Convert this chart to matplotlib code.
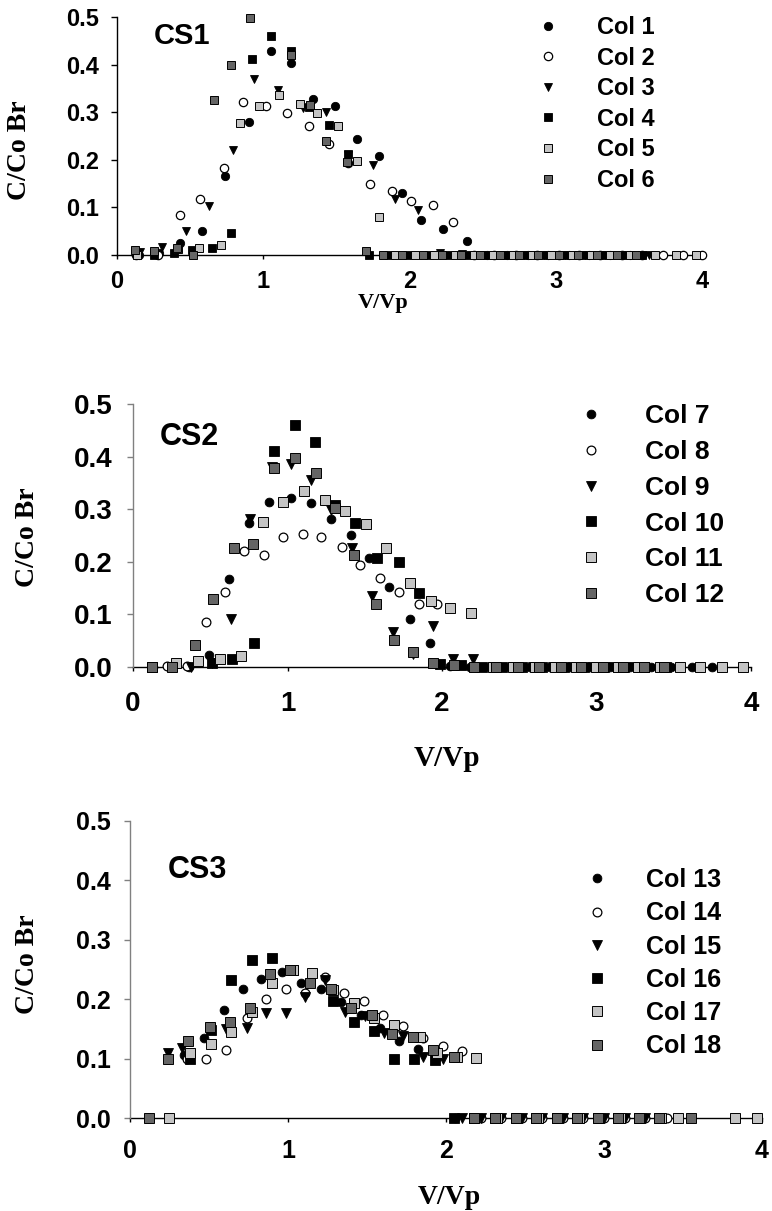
import matplotlib
matplotlib.use("Agg")
import matplotlib.pyplot as plt
from matplotlib.font_manager import FontProperties

# ---- CS1 -------------------------------------------------------------
c1_x = [0.15, 0.29, 0.43, 0.58, 0.74, 0.90, 1.05, 1.19, 1.34, 1.49, 1.64, 1.79, 1.95, 2.08, 2.23, 2.39,
        2.53, 2.67, 2.81, 2.95, 3.09, 3.23, 3.37, 3.51]
c1_y = [0.0, 0.005, 0.025, 0.050, 0.165, 0.279, 0.429, 0.403, 0.328, 0.313, 0.243, 0.209, 0.130, 0.074, 0.054, 0.029,
        0, 0, 0, 0, 0, 0, 0, 0]
c2_x = [0.13, 0.28, 0.43, 0.57, 0.73, 0.86, 1.02, 1.16, 1.31, 1.45, 1.58, 1.73, 1.88, 2.01, 2.16, 2.30,
        2.44, 2.58, 2.73, 2.87, 3.02, 3.16, 3.30, 3.45, 3.59, 3.73, 3.87, 4.00]
c2_y = [0, 0, 0.084, 0.118, 0.183, 0.321, 0.312, 0.299, 0.272, 0.233, 0.193, 0.149, 0.135, 0.114, 0.104, 0.070,
        0, 0, 0, 0, 0, 0, 0, 0, 0, 0, 0, 0]
c3_x = [0.16, 0.31, 0.47, 0.63, 0.79, 0.94, 1.10, 1.27, 1.43, 1.58, 1.75, 1.90, 2.06, 2.21, 2.36,
        2.50, 2.64, 2.78, 2.92, 3.06, 3.20, 3.34, 3.48, 3.64]
c3_y = [0.007, 0.017, 0.051, 0.102, 0.221, 0.370, 0.347, 0.308, 0.300, 0.210, 0.190, 0.118, 0.095, 0.005, 0.003,
        0, 0, 0, 0, 0, 0, 0, 0, 0]
c4_x = [0.25, 0.39, 0.51, 0.65, 0.78, 0.92, 1.05, 1.19, 1.31, 1.45, 1.58, 1.72, 1.86, 1.99, 2.13, 2.27,
        2.40, 2.53, 2.66, 2.80, 2.93, 3.06, 3.20, 3.33, 3.46, 3.59]
c4_y = [0.0, 0.005, 0.010, 0.014, 0.047, 0.411, 0.461, 0.429, 0.310, 0.273, 0.212, 0, 0, 0, 0, 0,
        0, 0, 0, 0, 0, 0, 0, 0, 0, 0]
c5_x = [0.135, 0.42, 0.56, 0.71, 0.84, 0.97, 1.11, 1.25, 1.37, 1.51, 1.64, 1.79, 1.90, 2.04, 2.17, 2.31,
        2.44, 2.57, 2.71, 2.84, 2.97, 3.11, 3.24, 3.37, 3.51, 3.68, 3.82, 3.96]
c5_y = [0, 0.013, 0.015, 0.021, 0.278, 0.314, 0.336, 0.317, 0.298, 0.272, 0.198, 0.080, 0, 0, 0, 0,
        0, 0, 0, 0, 0, 0, 0, 0, 0, 0, 0, 0]
c6_x = [0.12, 0.25, 0.41, 0.52, 0.66, 0.78, 0.91, 1.19, 1.32, 1.43, 1.57, 1.70, 1.82, 1.95, 2.09, 2.22,
        2.35, 2.48, 2.62, 2.75, 2.88, 3.02, 3.15, 3.28, 3.42, 3.55]
c6_y = [0.010, 0.008, 0.014, 0.0, 0.326, 0.400, 0.497, 0.420, 0.315, 0.239, 0.196, 0.009, 0, 0, 0, 0,
        0, 0, 0, 0, 0, 0, 0, 0, 0, 0]

# ---- CS2 -------------------------------------------------------------
c7_x = [0.13, 0.36, 0.49, 0.62, 0.75, 0.88, 1.02, 1.15, 1.28, 1.41, 1.53, 1.66, 1.79, 1.92, 2.05, 2.18,
        2.31, 2.44, 2.57, 2.70, 2.83, 2.96, 3.09, 3.22, 3.35, 3.48, 3.62, 3.75]
c7_y = [0, 0, 0.023, 0.168, 0.274, 0.313, 0.321, 0.311, 0.281, 0.251, 0.207, 0.153, 0.091, 0.046, 0.002, 0,
        0, 0, 0, 0, 0, 0, 0, 0, 0, 0, 0, 0]
c8_x = [0.22, 0.35, 0.47, 0.595, 0.72, 0.845, 0.97, 1.10, 1.22, 1.35, 1.47, 1.60, 1.72, 1.85, 1.97, 2.10,
        2.22, 2.35, 2.48, 2.61, 2.74, 2.87, 3.00, 3.13]
c8_y = [0.001, 0.002, 0.085, 0.143, 0.221, 0.213, 0.248, 0.252, 0.248, 0.229, 0.194, 0.170, 0.143, 0.120, 0.119, 0.003,
        0, 0, 0, 0, 0, 0, 0, 0]
c9_x = [0.375, 0.51, 0.634, 0.76, 0.90, 1.02, 1.15, 1.28, 1.415, 1.547, 1.68, 1.81, 1.94, 2.07, 2.20,
        2.33, 2.46, 2.59, 2.72, 2.85, 2.98, 3.11, 3.24]
c9_y = [0.0, 0.007, 0.091, 0.281, 0.380, 0.386, 0.356, 0.298, 0.226, 0.135, 0.066, 0.025, 0.077, 0.015, 0.015,
        0, 0, 0, 0, 0, 0, 0, 0]
c10_x = [0.51, 0.64, 0.78, 0.91, 1.05, 1.18, 1.31, 1.44, 1.58, 1.72, 1.85, 1.99, 2.12, 2.26,
         2.39, 2.52, 2.65, 2.79, 2.92, 3.05, 3.18, 3.31, 3.45]
c10_y = [0.008, 0.015, 0.045, 0.411, 0.460, 0.427, 0.308, 0.273, 0.208, 0.200, 0.141, 0.006, 0.003, 0,
         0, 0, 0, 0, 0, 0, 0, 0, 0]
c11_x = [0.125, 0.28, 0.42, 0.56, 0.70, 0.84, 0.97, 1.11, 1.24, 1.37, 1.51, 1.64, 1.79, 1.93, 2.05, 2.19,
         2.33, 2.46, 2.60, 2.73, 2.87, 3.00, 3.14, 3.27, 3.41, 3.54, 3.67, 3.81, 3.95]
c11_y = [0, 0.008, 0.012, 0.015, 0.020, 0.276, 0.314, 0.335, 0.317, 0.297, 0.271, 0.227, 0.159, 0.126, 0.113, 0.102,
         0, 0, 0, 0, 0, 0, 0, 0, 0, 0, 0, 0, 0]
c12_x = [0.125, 0.25, 0.40, 0.52, 0.654, 0.777, 0.91, 1.05, 1.185, 1.31, 1.43, 1.57, 1.69, 1.81, 1.94, 2.08,
         2.21, 2.35, 2.49, 2.63, 2.77, 2.90, 3.04, 3.17, 3.31, 3.44]
c12_y = [0, 0, 0.041, 0.129, 0.226, 0.233, 0.378, 0.398, 0.368, 0.303, 0.212, 0.119, 0.051, 0.028, 0.007, 0.003,
         0, 0, 0, 0, 0, 0, 0, 0, 0, 0]

# ---- CS3 -------------------------------------------------------------
c13_x = [0.12, 0.34, 0.47, 0.595, 0.717, 0.83, 0.96, 1.08, 1.207, 1.335, 1.46, 1.58, 1.70, 1.82, 1.94,
         2.06, 2.19, 2.32, 2.45, 2.58, 2.71, 2.84, 2.97, 3.10, 3.23, 3.36]
c13_y = [0, 0.106, 0.135, 0.181, 0.217, 0.234, 0.245, 0.228, 0.218, 0.196, 0.173, 0.151, 0.130, 0.117, 0.103,
         0, 0, 0, 0, 0, 0, 0, 0, 0, 0, 0]
c14_x = [0.12, 0.36, 0.48, 0.61, 0.74, 0.86, 0.985, 1.11, 1.234, 1.355, 1.48, 1.60, 1.73, 1.856, 1.98, 2.10,
         2.22, 2.35, 2.48, 2.61, 2.74, 2.87, 3.00, 3.13, 3.26, 3.40, 3.83, 3.97]
c14_y = [0, 0.099, 0.100, 0.114, 0.168, 0.201, 0.218, 0.211, 0.237, 0.210, 0.197, 0.173, 0.155, 0.135, 0.122, 0.113,
         0, 0, 0, 0, 0, 0, 0, 0, 0, 0, 0, 0]
c15_x = [0.24, 0.33, 0.605, 0.74, 0.86, 0.987, 1.11, 1.234, 1.36, 1.487, 1.61, 1.73, 1.856, 1.98,
         2.10, 2.22, 2.35, 2.48, 2.61, 2.74, 2.87, 3.00, 3.13, 3.26]
c15_y = [0.110, 0.118, 0.149, 0.151, 0.177, 0.177, 0.203, 0.232, 0.179, 0.172, 0.143, 0.138, 0.103, 0.100,
         0, 0, 0, 0, 0, 0, 0, 0, 0, 0]
c16_x = [0.38, 0.51, 0.64, 0.77, 0.897, 1.03, 1.286, 1.418, 1.544, 1.67, 1.80, 1.93,
         2.05, 2.18, 2.31, 2.44, 2.57, 2.70, 2.83, 2.96, 3.09, 3.22, 3.35]
c16_y = [0.100, 0.148, 0.232, 0.266, 0.270, 0.249, 0.197, 0.162, 0.147, 0.099, 0.100, 0.097,
         0, 0, 0, 0, 0, 0, 0, 0, 0, 0, 0]
c17_x = [0.247, 0.38, 0.51, 0.64, 0.77, 0.897, 1.03, 1.155, 1.286, 1.418, 1.544, 1.67, 1.835, 1.945, 2.07, 2.19,
         2.32, 2.45, 2.58, 2.71, 2.84, 2.97, 3.10, 3.23, 3.36, 3.47, 3.83, 3.97]
c17_y = [0, 0.109, 0.124, 0.145, 0.179, 0.227, 0.249, 0.244, 0.215, 0.193, 0.168, 0.157, 0.137, 0.109, 0.103, 0.101,
         0, 0, 0, 0, 0, 0, 0, 0, 0, 0, 0, 0]
c18_x = [0.12, 0.24, 0.37, 0.506, 0.633, 0.76, 0.886, 1.013, 1.14, 1.27, 1.40, 1.53, 1.66, 1.79, 1.92, 2.05,
         2.18, 2.31, 2.44, 2.57, 2.70, 2.83, 2.96, 3.09, 3.22, 3.35, 3.55]
c18_y = [0, 0.100, 0.130, 0.154, 0.162, 0.186, 0.242, 0.249, 0.228, 0.218, 0.186, 0.173, 0.141, 0.137, 0.114, 0.102,
         0, 0, 0, 0, 0, 0, 0, 0, 0, 0, 0]

yticks = [0.0, 0.1, 0.2, 0.3, 0.4, 0.5]
xticks = [0, 1, 2, 3, 4]

# marker looks, same order in every panel (last value = size factor)
styles = [
    (dict(marker='o', mfc='black', mec='black', mew=0.6), 1.0),
    (dict(marker='o', mfc='white', mec='black', mew=0.9), 1.0),
    (dict(marker='v', mfc='black', mec='black', mew=0.6), 1.05),
    (dict(marker='s', mfc='black', mec='black', mew=0.6), 1.05),
    (dict(marker='s', mfc='#c4c4c4', mec='black', mew=0.7), 1.05),
    (dict(marker='s', mfc='#656565', mec='black', mew=0.7), 1.05),
]

sans = 'Liberation Sans'
serif = 'Liberation Serif'

W, H = 772, 1211
fig = plt.figure(figsize=(W / 100, H / 100), dpi=100)


def px_box(left, right, top, bottom):
    return [left / W, 1 - bottom / H, (right - left) / W, (bottom - top) / H]


def panel(box, series, labels, tag, cfg):
    ax = fig.add_axes(px_box(*box))
    for (x, y), (st, f), lab in zip(series, styles, labels):
        ax.plot(x, y, ls='none', ms=cfg['ms'] * f, clip_on=False, zorder=3, label=lab, **st)
    ax.set_xlim(0, 4)
    ax.set_ylim(0, 0.5)
    ax.set_xticks(xticks)
    ax.set_yticks(yticks)
    ax.set_yticklabels(['%.1f' % v for v in yticks])
    for s in ['top', 'right']:
        ax.spines[s].set_visible(False)
    ax.spines['left'].set_color(cfg['lcol'])
    ax.spines['left'].set_linewidth(1.0)
    ax.spines['bottom'].set_linewidth(1.0)
    ax.spines['bottom'].set_zorder(2)
    ax.tick_params(axis='y', direction='out', length=4, width=1, color=cfg['lcol'], pad=cfg['ypad'])
    ax.tick_params(axis='x', direction='out', length=3, width=1, pad=cfg['xpad'])
    tf = FontProperties(family=sans, weight='bold', size=cfg['tick'])
    for t in ax.get_xticklabels() + ax.get_yticklabels():
        t.set_fontproperties(tf)
    ax.set_ylabel('C/Co Br', fontfamily=serif, fontweight='bold', fontsize=cfg['lab'], va='center')
    ax.yaxis.set_label_coords(cfg['ylab'][0] / W, 1 - cfg['ylab'][1] / H, transform=fig.transFigure)
    ax.set_xlabel('V/Vp', fontfamily=serif, fontweight='bold', fontsize=cfg['xlabsize'], va='center')
    ax.xaxis.set_label_coords(cfg['xlab'][0] / W, 1 - cfg['xlab'][1] / H, transform=fig.transFigure)
    fig.text(cfg['tag'][0] / W, 1 - cfg['tag'][1] / H, tag, fontfamily=sans, fontweight='bold',
             fontsize=cfg['tagsize'], ha='left', va='center')
    lf = FontProperties(family=sans, weight='bold', size=cfg['leg'])
    ax.legend(loc='upper left', bbox_to_anchor=(cfg['legxy'][0] / W, 1 - cfg['legxy'][1] / H),
              bbox_transform=fig.transFigure, frameon=False, prop=lf, numpoints=1,
              handlelength=1.0, handletextpad=cfg['htp'], labelspacing=cfg['ls'],
              borderpad=0, borderaxespad=0)
    return ax


panel((117, 702, 17, 255),
      [(c1_x, c1_y), (c2_x, c2_y), (c3_x, c3_y), (c4_x, c4_y), (c5_x, c5_y), (c6_x, c6_y)],
      ['Col 1', 'Col 2', 'Col 3', 'Col 4', 'Col 5', 'Col 6'], 'CS1',
      dict(ms=6.0, lcol='black', tick=17, ypad=9, xpad=8, lab=20, xlabsize=16,
           ylab=(20, 150), xlab=(383, 303), tag=(154, 36), tagsize=21,
           leg=17, legxy=(536, 16), htp=1.58, ls=0.32))

panel((133, 751, 404, 667),
      [(c7_x, c7_y), (c8_x, c8_y), (c9_x, c9_y), (c10_x, c10_y), (c11_x, c11_y), (c12_x, c12_y)],
      ['Col 7', 'Col 8', 'Col 9', 'Col 10', 'Col 11', 'Col 12'], 'CS2',
      dict(ms=6.3, lcol='#808080', tick=20, ypad=11, xpad=14, lab=20, xlabsize=21,
           ylab=(27, 537), xlab=(447, 758), tag=(160, 437), tagsize=22,
           leg=19, legxy=(578, 404), htp=1.545, ls=0.45))

panel((130, 762, 821, 1118),
      [(c13_x, c13_y), (c14_x, c14_y), (c15_x, c15_y), (c16_x, c16_y), (c17_x, c17_y), (c18_x, c18_y)],
      ['Col 13', 'Col 14', 'Col 15', 'Col 16', 'Col 17', 'Col 18'], 'CS3',
      dict(ms=6.3, lcol='#808080', tick=18, ypad=10, xpad=12, lab=20, xlabsize=20,
           ylab=(27, 964), xlab=(449, 1198), tag=(168, 870), tagsize=22,
           leg=18, legxy=(584, 868), htp=1.46, ls=0.37))

fig.savefig('out.png', dpi=100)
